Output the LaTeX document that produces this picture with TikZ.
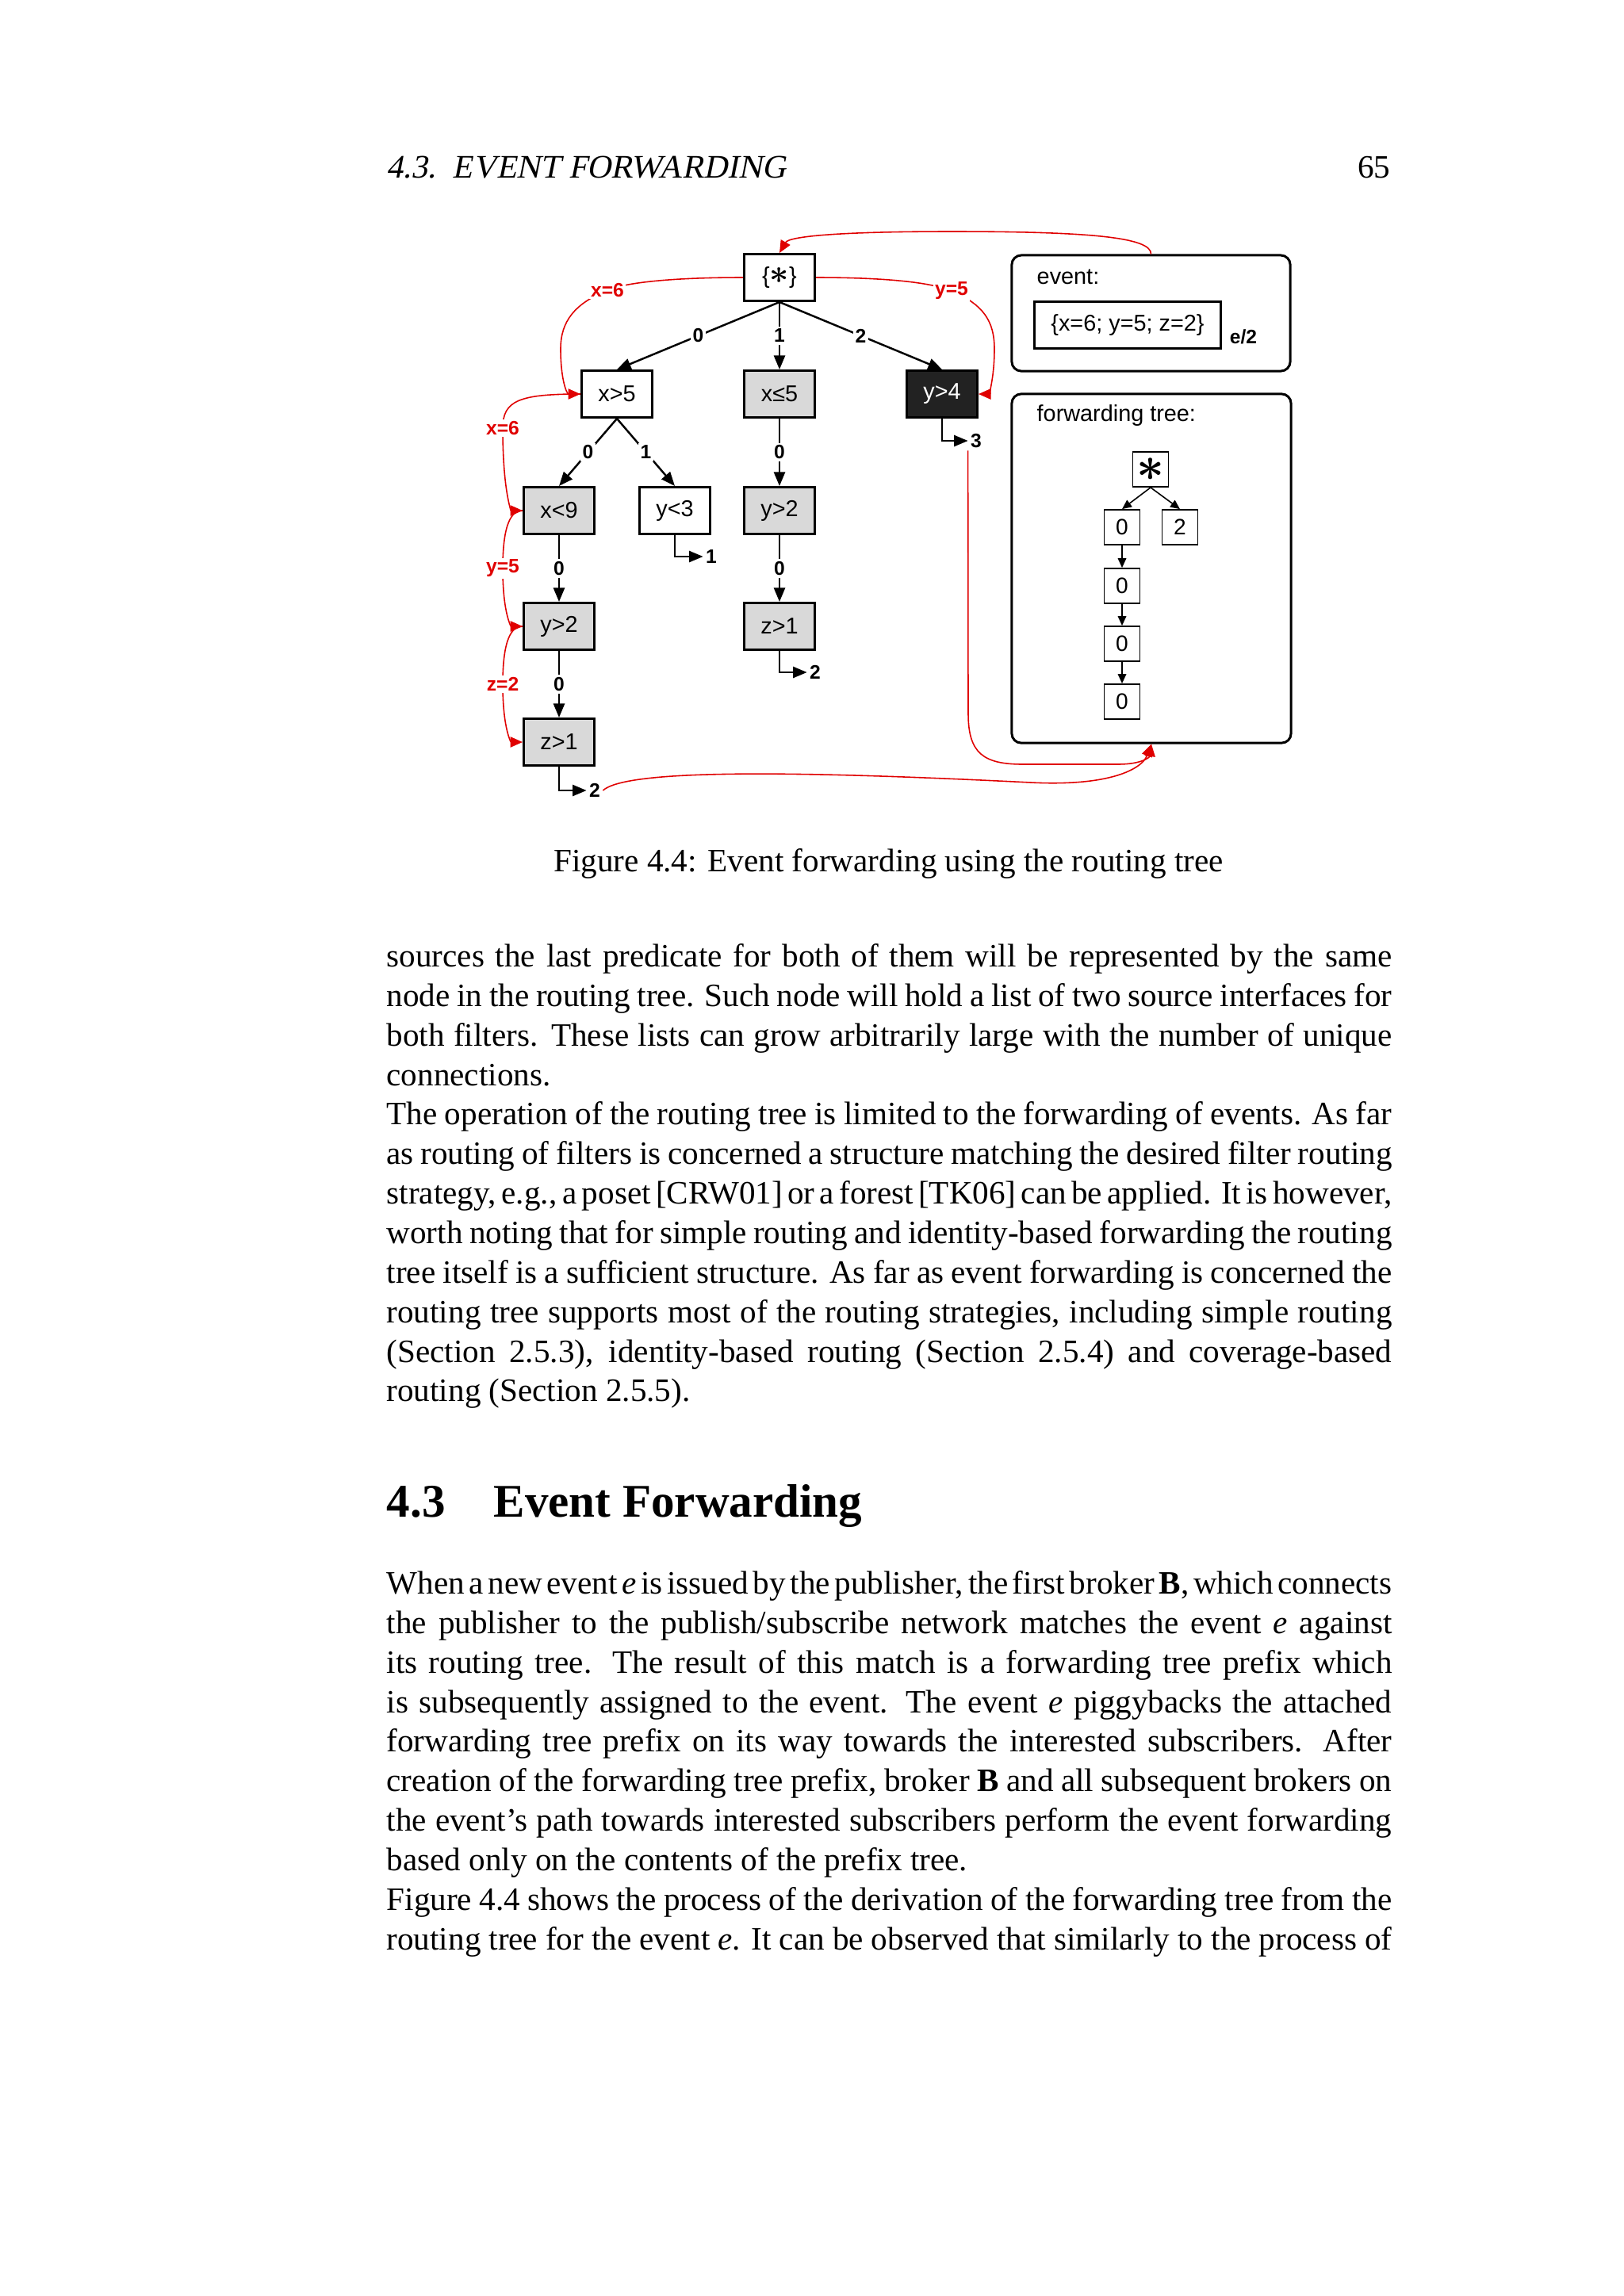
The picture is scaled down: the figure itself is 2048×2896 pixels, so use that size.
\documentclass[tikz,border=0pt]{standalone}
\usepackage{amsmath}
\usepackage{fontspec}
\setmainfont{Liberation Serif}[WordSpace={1,1.2,2.6}]
\newfontfamily\slantfont{Liberation Serif}[FakeSlant=0.2]
\newfontfamily\diagfont{Liberation Sans}
\usetikzlibrary{arrows.meta,positioning,calc}
\definecolor{MatchRed}{HTML}{E00000}
\definecolor{NodeGray}{HTML}{D9D9D9}
\definecolor{NodeDark}{HTML}{222222}

% one typeset line of the page, s = justified, l = natural width
\newcommand{\pageline}[4][s]{\node[txtline] (#2) at (487,#3) {\makebox[12.67cm][#1]{#4}};}

\begin{document}
\begin{tikzpicture}[x=0.01cm, y=-0.01cm,
    tnode/.style={draw, line width=0.85pt, minimum width=0.89cm, minimum height=0.59cm, inner sep=0pt, font=\diagfont\fontsize{8.2}{9.8}\selectfont},
    lit/.style={tnode, fill=white},
    shaded/.style={tnode, fill=NodeGray},
    dark/.style={tnode, fill=NodeDark, text=white},
    arr/.style={-{Triangle[length=5pt, width=4pt]}, line width=0.7pt},
    elbl/.style={fill=white, inner sep=0.8pt, font=\diagfont\bfseries\fontsize{7}{8}\selectfont},
    outlbl/.style={inner sep=0.8pt, font=\diagfont\bfseries\fontsize{7}{8}\selectfont},
    match/.style={-{Triangle[length=4.4pt, width=3.8pt]}, draw=MatchRed, line width=0.45pt},
    rlbl/.style={fill=white, text=MatchRed, inner sep=0.6pt, font=\diagfont\bfseries\fontsize{7}{8}\selectfont},
    panel/.style={draw, rounded corners=3.4pt, line width=0.85pt},
    ptitle/.style={anchor=west, inner sep=0pt, font=\diagfont\fontsize{8.2}{9.8}\selectfont},
    ftnode/.style={draw, line width=0.5pt, minimum width=0.45cm, minimum height=0.44cm, inner sep=0pt, font=\diagfont\fontsize{8}{9}\selectfont},
    farr/.style={-{Triangle[length=3.4pt, width=3pt]}, line width=0.45pt},
    txtline/.style={anchor=base west, inner sep=0pt, font=\fontsize{11.7}{14.2}\selectfont}
  ]
    \fill[white] (0,0) rectangle (2048,2896);
    \useasboundingbox (0,0) rectangle (2048,2896);

    % running head
    \node[txtline, font=\slantfont\fontsize{11.8}{14}\selectfont] (runhead) at (487,224) {4.3.\ \ EVENT FORWARDING};
    \node[txtline, anchor=base east] (pagenum) at (1754,224) {65};

    % routing tree
    \node[lit] (root) at (983,350) {\{{\fontsize{13}{13}\selectfont$\boldsymbol{\ast}$}\}};
    \node[lit] (xg5) at (778,497) {x>5};
    \node[shaded] (xle5) at (983,497) {x≤5};
    \node[dark] (yg4) at (1188,497) {y>4};
    \node[shaded] (xl9) at (705,644) {x<9};
    \node[lit] (yl3) at (851,644) {y<3};
    \node[shaded] (yg2b) at (983,644) {y>2};
    \node[shaded] (yg2a) at (705,790) {y>2};
    \node[shaded] (zg1b) at (983,790) {z>1};
    \node[shaded] (zg1a) at (705,936) {z>1};

    \draw[arr] (root.south) -- node[elbl] (lr0) {0} (xg5.north);
    \draw[arr] (root.south) -- node[elbl] (lr1) {1} (xle5.north);
    \draw[arr] (root.south) -- node[elbl] (lr2) {2} (yg4.north);
    \draw[arr] (xg5.south) -- node[elbl] (lx0) {0} (xl9.north);
    \draw[arr] (xg5.south) -- node[elbl] (lx1) {1} (yl3.north);
    \draw[arr] (xle5.south) -- node[elbl] (lm0) {0} (yg2b.north);
    \draw[arr] (xl9.south) -- node[elbl] (ll0) {0} (yg2a.north);
    \draw[arr] (yg2b.south) -- node[elbl] (lm1) {0} (zg1b.north);
    \draw[arr] (yg2a.south) -- node[elbl] (ll1) {0} (zg1a.north);

    % interfaces
    \node[outlbl] (out3) at (1231,556) {3};
    \node[outlbl] (out1) at (897,702) {1};
    \node[outlbl] (out2b) at (1028,848) {2};
    \node[outlbl] (out2a) at (750,997) {2};
    \draw[arr] (yg4.south) |- (out3.west);
    \draw[arr] (yl3.south) |- (out1.west);
    \draw[arr] (zg1b.south) |- (out2b.west);
    \draw[arr] (zg1a.south) |- (out2a.west);

    % event panel
    \node[panel, minimum width=3.51cm, minimum height=1.46cm] (evbox) at (1451.5,395) {};
    \node[ptitle] (evtitle) at (1307,349) {event:};
    \node[draw, line width=0.7pt, minimum width=2.35cm, minimum height=0.59cm, inner sep=0pt, font=\diagfont\fontsize{8.2}{9.8}\selectfont] (evdata) at (1422,410) {\{x=6; y=5; z=2\}};
    \node[outlbl] (evname) at (1568,425) {e/2};

    % forwarding tree panel
    \node[panel, minimum width=3.52cm, minimum height=4.40cm] (ftree) at (1452,717) {};
    \node[ptitle] (fttitle) at (1307,524) {forwarding tree:};
    \node[ftnode] (fstar) at (1451,592) {\fontsize{16}{16}\selectfont$\boldsymbol{\ast}$};
    \node[ftnode] (f0a) at (1415,665) {0};
    \node[ftnode] (f2) at (1488,665) {2};
    \node[ftnode] (f0b) at (1415,739) {0};
    \node[ftnode] (f0c) at (1415,812) {0};
    \node[ftnode] (f0d) at (1415,885) {0};
    \draw[farr] (fstar.south) -- (f0a.north);
    \draw[farr] (fstar.south) -- (f2.north);
    \draw[farr] (f0a) -- (f0b);
    \draw[farr] (f0b) -- (f0c);
    \draw[farr] (f0c) -- (f0d);

    % matching path of the event
    \draw[match] (evbox.north) .. controls (1452,300) and (1380,292) .. (1200,292) .. controls (1060,292) and (995,298) .. (root.north);
    \draw[match] (root.west) .. controls (850,350) and (790,356) .. (766,366) node[rlbl] (mx1) {x=6} .. controls (725,383) and (707,405) .. (707,440) .. controls (707,480) and (715,497) .. (xg5.west);
    \draw[match] (root.east) .. controls (1116,350) and (1174,356) .. (1200,367) node[rlbl] (my1) {y=5} .. controls (1240,384) and (1254,405) .. (1254,440) .. controls (1254,480) and (1246,497) .. (yg4.east);
    \draw[match] (xg5.west) .. controls (655,497) and (634,505) .. (634,540) node[rlbl] (mx2) {x=6} .. controls (634,620) and (645,644) .. (xl9.west);
    \draw[match] (xl9.west) .. controls (645,644) and (634,660) .. (634,717) node[rlbl] (my2) {y=5} .. controls (634,775) and (645,790) .. (yg2a.west);
    \draw[match] (yg2a.west) .. controls (645,790) and (634,806) .. (634,863) node[rlbl] (mz2) {z=2} .. controls (634,921) and (645,936) .. (zg1a.west);
    \draw[match] (out3.south west) -- (1221,900) .. controls (1221,950) and (1240,964) .. (1290,964) -- (1410,964) .. controls (1440,964) and (1450,955) .. (ftree.south);
    \draw[match] (out2a.east) .. controls (790,970) and (1000,972) .. (1300,987) .. controls (1400,992) and (1440,970) .. (ftree.south);

    % caption
    \node[txtline, anchor=base] (caption) at (1120.5,1099) {Figure 4.4: Event forwarding using the routing tree};

    % text before the section
    \pageline{pa1}{1219}{sources the last predicate for both of them will be represented by the same}
    \pageline{pa2}{1269}{node in the routing tree. Such node will hold a list of two source interfaces for}
    \pageline{pa3}{1319}{both filters. These lists can grow arbitrarily large with the number of unique}
    \pageline[l]{pa4}{1369}{connections.}
    \pageline{pa5}{1418}{The operation of the routing tree is limited to the forwarding of events. As far}
    \pageline{pa6}{1468}{as routing of filters is concerned a structure matching the desired filter routing}
    \pageline{pa7}{1518}{strategy, e.g., a poset [CRW01] or a forest [TK06] can be applied. It is however,}
    \pageline{pa8}{1568}{worth noting that for simple routing and identity-based forwarding the routing}
    \pageline{pa9}{1618}{tree itself is a sufficient structure. As far as event forwarding is concerned the}
    \pageline{pa10}{1668}{routing tree supports most of the routing strategies, including simple routing}
    \pageline{pa11}{1718}{(Section 2.5.3), identity-based routing (Section 2.5.4) and coverage-based}
    \pageline[l]{pa12}{1767}{routing (Section 2.5.5).}

    % section heading
    \node[txtline, font=\bfseries\fontsize{16.8}{20}\selectfont] (secnum) at (487,1913) {4.3};
    \node[txtline, font=\bfseries\fontsize{16.8}{20}\selectfont] (sectitle) at (622,1913) {Event Forwarding};

    % text of the section
    \pageline{pb1}{2010}{When a new event \textit{e} is issued by the publisher, the first broker \textbf{B}, which connects}
    \pageline{pb2}{2060}{the publisher to the publish/subscribe network matches the event \textit{e} against}
    \pageline{pb3}{2110}{its routing tree. The result of this match is a forwarding tree prefix which}
    \pageline{pb4}{2160}{is subsequently assigned to the event. The event \textit{e} piggybacks the attached}
    \pageline{pb5}{2209}{forwarding tree prefix on its way towards the interested subscribers. After}
    \pageline{pb6}{2259}{creation of the forwarding tree prefix, broker \textbf{B} and all subsequent brokers on}
    \pageline{pb7}{2309}{the event’s path towards interested subscribers perform the event forwarding}
    \pageline[l]{pb8}{2359}{based only on the contents of the prefix tree.}
    \pageline{pb9}{2409}{Figure 4.4 shows the process of the derivation of the forwarding tree from the}
    \pageline{pb10}{2459}{routing tree for the event \textit{e}. It can be observed that similarly to the process of}
  \end{tikzpicture}
\end{document}
